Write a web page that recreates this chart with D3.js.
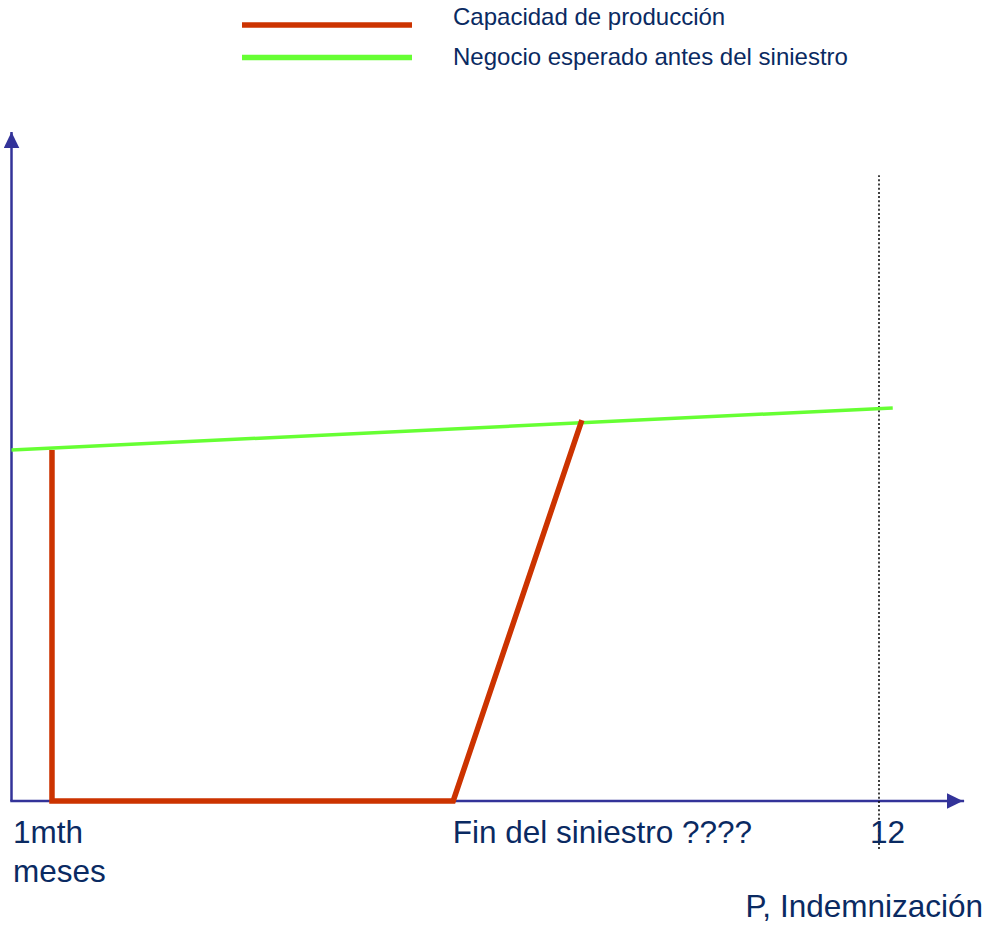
<!DOCTYPE html>
<html>
<head>
<meta charset="utf-8">
<script src="https://cdn.jsdelivr.net/npm/d3@7"></script>
<style>
  html, body { margin: 0; padding: 0; background: #fff; }
  svg { display: block; }
  text { font-family: "Liberation Sans", Arial, sans-serif; fill: #0a2a62; }
</style>
</head>
<body>
<svg id="chart" width="983" height="926"></svg>
<script>
// Months along the horizontal axis, business level (0-100 = level before the loss) vertically.
const capacityMonths = [0.56, 0.56, 6.11, 7.89];
const capacityLevels = [100, 0, 0, 108.5];

const expectedMonths = [0, 12.19];
const expectedLevels = [100, 112];

// Indemnity period limit (12 months), drawn as a dotted guide.
const limitMonth = 12;
const limitSpan = [-13.7, 178.3];

// Axis extents in data units.
const axisMonthEnd = 13.16;
const axisLevelTop = 190.6;

const tickMonths = [0, 6.11, 12];
const tickLabels = ["1mth", "Fin del siniestro ????", "12"];

const seriesNames = ["Capacidad de producción", "Negocio esperado antes del siniestro"];
const seriesColors = ["#cc3300", "#66ff33"];

const svg = d3.select("#chart");

const x = d3.scaleLinear().domain([0, 12]).range([11.5, 879]);
const y = d3.scaleLinear().domain([0, 100]).range([801, 450]);

const line = d3.line().x(d => x(d[0])).y(d => y(d[1]));

// Arrowhead marker for the axes
svg.append("defs").append("marker")
  .attr("id", "arrow")
  .attr("markerUnits", "userSpaceOnUse")
  .attr("viewBox", "0 -8 16 16")
  .attr("refX", 16).attr("refY", 0)
  .attr("markerWidth", 16).attr("markerHeight", 16)
  .attr("orient", "auto")
  .append("path")
  .attr("d", "M0,-7.8L16,0L0,7.8Z")
  .attr("fill", "#333399");

// Axes: a shared corner at the origin, arrows at both ends
svg.append("path")
  .attr("d", line([[0, 0], [0, axisLevelTop]]))
  .attr("fill", "none").attr("stroke", "#333399").attr("stroke-width", 2.5)
  .attr("marker-end", "url(#arrow)");
svg.append("path")
  .attr("d", line([[0, 0], [axisMonthEnd, 0]]))
  .attr("fill", "none").attr("stroke", "#333399").attr("stroke-width", 2.5)
  .attr("stroke-linecap", "square")
  .attr("marker-end", "url(#arrow)");

// Dotted limit of the indemnity period
svg.append("path")
  .attr("d", line([[limitMonth, limitSpan[0]], [limitMonth, limitSpan[1]]]))
  .attr("fill", "none").attr("stroke", "#111").attr("stroke-width", 1.6)
  .attr("stroke-dasharray", "2,2.2");

// Expected business before the loss
svg.append("path")
  .attr("d", line(d3.zip(expectedMonths, expectedLevels)))
  .attr("fill", "none").attr("stroke", seriesColors[1]).attr("stroke-width", 3.5);

// Production capacity after the loss
svg.append("path")
  .attr("d", line(d3.zip(capacityMonths, capacityLevels)))
  .attr("fill", "none").attr("stroke", seriesColors[0]).attr("stroke-width", 5.5)
  .attr("stroke-linejoin", "miter");

// Axis labels
const labelSize = 31.5;
const tickDx = [1.5, -0.5, -9];
svg.selectAll("text.tick")
  .data(tickMonths)
  .join("text")
  .attr("class", "tick")
  .attr("x", (d, i) => x(d) + tickDx[i])
  .attr("y", 843)
  .attr("font-size", labelSize)
  .text((d, i) => tickLabels[i]);

svg.append("text")
  .attr("x", x(0) + 1.5).attr("y", 882)
  .attr("font-size", labelSize)
  .text("meses");

svg.append("text")
  .attr("x", 983).attr("y", 917)
  .attr("text-anchor", "end")
  .attr("font-size", labelSize)
  .text("P, Indemnización");

// Legend
const legend = svg.append("g");
const legendRows = [25, 57.5];
const legendBase = [25, 65];
seriesNames.forEach((name, i) => {
  legend.append("line")
    .attr("x1", 242).attr("x2", 412)
    .attr("y1", legendRows[i]).attr("y2", legendRows[i])
    .attr("stroke", seriesColors[i]).attr("stroke-width", 5.5);
  legend.append("text")
    .attr("x", 453).attr("y", legendBase[i])
    .attr("font-size", 24)
    .text(name);
});
</script>
</body>
</html>
